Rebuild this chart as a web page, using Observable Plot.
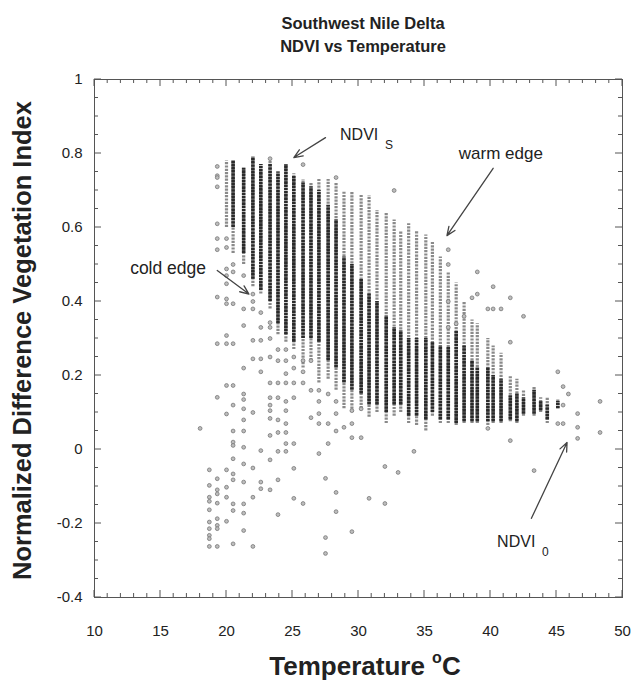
<!DOCTYPE html>
<html><head><meta charset="utf-8">
<script src="https://cdn.jsdelivr.net/npm/d3@7"></script>
<script src="https://cdn.jsdelivr.net/npm/@observablehq/plot@0.6"></script>
<style>
body{margin:0;background:#fff;font-family:"Liberation Sans",Arial,sans-serif;}
#title{width:642px;height:60px;position:relative;}
#title div{position:absolute;left:0;width:726px;text-align:center;font-weight:bold;font-size:16.5px;color:#222;line-height:20px;}
#chart svg{display:block;}
</style></head><body>
<div id="title"><div style="top:13px">Southwest Nile Delta</div><div style="top:36px">NDVI vs Temperature</div></div>
<div id="chart"></div>
<script>
// Temperature columns (°C) of the dense vertical point stacks
const colT      = [20.0,20.5,21.3,22.0,22.6,23.3,23.9,24.5,25.1,25.8,26.4,27.0,27.7,28.3,28.9,29.5,30.2,30.8,31.4,32.1,32.7,33.2,33.8,34.4,35.1,35.6,36.2,36.8,37.4,38.0,38.6,39.0,39.8,40.2,40.8,41.5,42.0,42.5,43.3,43.8,44.3,45.1];
// full extent of each column's points (NDVI)
const colTop    = [0.78,0.78,0.76,0.79,0.77,0.78,0.75,0.77,0.745,0.73,0.72,0.73,0.73,0.72,0.695,0.695,0.69,0.686,0.646,0.64,0.62,0.59,0.61,0.59,0.58,0.56,0.52,0.48,0.45,0.40,0.35,0.34,0.30,0.28,0.26,0.20,0.19,0.16,0.17,0.14,0.14,0.135];
const colBottom = [0.60,0.53,0.50,0.44,0.42,0.38,0.31,0.29,0.27,0.22,0.24,0.18,0.19,0.16,0.11,0.10,0.11,0.087,0.10,0.07,0.09,0.10,0.07,0.065,0.05,0.09,0.07,0.07,0.065,0.07,0.07,0.07,0.065,0.07,0.07,0.075,0.07,0.09,0.09,0.10,0.07,0.11];
// densest (darkest) part of each column (NDVI); null = no dense part
const denseTop    = [null,0.78,0.76,0.79,0.77,0.77,0.75,0.77,0.74,0.72,0.71,0.70,0.66,0.62,0.52,0.50,0.46,0.42,0.40,0.36,0.33,0.32,0.30,0.30,0.30,0.29,0.28,0.276,0.32,0.28,0.24,0.22,0.22,0.20,0.19,0.145,0.15,0.14,0.16,0.13,0.12,0.13];
const denseBottom = [null,0.60,0.53,0.46,0.43,0.40,0.34,0.31,0.29,0.30,0.30,0.29,0.24,0.22,0.18,0.16,0.15,0.12,0.12,0.10,0.12,0.12,0.09,0.09,0.08,0.10,0.08,0.08,0.07,0.075,0.075,0.075,0.075,0.075,0.075,0.08,0.075,0.095,0.095,0.105,0.08,0.11];

// isolated points: temperature and NDVI
const pointT = [
 18.7,18.7,18.7,18.7,18.7,18.7,18.7,18.7,18.7,18.7,18.0,
 19.3,19.3,19.3,19.3,19.3,19.3,19.3,19.3,19.3,19.3,19.3,19.3,19.3,19.3,19.3,19.3,19.3,19.3,
 20.0,20.0,20.0,20.0,20.0,20.0,20.0,20.0,20.0,20.0,20.0,20.0,20.0,20.0,20.0,
 20.5,20.5,20.5,20.5,20.5,20.5,20.5,20.5,20.5,20.5,20.5,20.5,20.5,20.5,20.5,
 21.3,21.3,21.3,21.3,21.3,21.3,21.3,21.3,21.3,21.3,21.3,21.3,21.3,21.3,21.3,
 22.0,22.0,22.0,22.0,22.0,22.0,22.0,22.0,22.0,
 22.6,22.6,22.6,22.6,22.6,22.6,22.6,22.6,
 23.3,23.3,23.3,23.3,23.3,23.3,23.3,23.3,23.3,23.3,23.3,23.3,23.3,
 23.9,23.9,23.9,23.9,23.9,23.9,23.9,23.9,23.9,
 24.5,24.5,24.5,24.5,24.5,24.5,24.5,24.5,24.5,24.5,
 25.1,25.1,25.1,25.1,25.1,25.1,25.1,
 25.8,25.8,25.8,25.8,25.8,
 26.4,26.4,26.4,
 27.0,27.0,27.0,27.0,27.0,
 27.5,27.5,27.5,27.7,27.7,27.7,
 28.3,28.3,28.3,28.3,28.3,28.3,
 28.9,29.5,29.5,29.5,29.5,30.2,30.2,30.8,
 32.0,32.0,32.7,33.0,34.2,
 36.8,36.8,36.8,36.8,37.4,38.0,38.6,39.0,39.0,39.8,39.8,40.2,40.2,40.8,
 41.5,41.5,41.5,42.5,43.3,45.1,45.1,45.5,45.5,45.5,45.9,46.6,46.6,46.6,48.3,48.3
];
const pointNDVI = [
 -0.055,-0.097,-0.129,-0.14,-0.163,-0.196,-0.214,-0.232,-0.241,-0.262,0.057,
 0.765,0.74,0.735,0.71,0.61,0.57,0.54,0.412,0.286,0.141,-0.079,-0.109,-0.12,-0.145,-0.187,-0.205,-0.214,-0.262,
 0.57,0.546,0.488,0.47,0.448,0.407,0.394,0.308,0.286,0.173,0.096,-0.055,-0.102,-0.129,-0.194,
 0.50,0.48,0.394,0.286,0.173,0.12,0.05,0.02,0.011,-0.025,-0.066,-0.082,-0.147,-0.165,-0.255,
 0.47,0.38,0.335,0.22,0.15,0.135,0.11,0.08,0.05,0.006,-0.039,-0.088,-0.147,-0.172,-0.219,
 0.42,0.40,0.38,0.295,0.245,0.10,-0.05,-0.129,-0.262,
 0.37,0.33,0.295,0.245,0.21,-0.003,-0.088,-0.106,
 0.786,0.343,0.33,0.30,0.25,0.18,0.14,0.12,0.105,0.084,0.038,-0.028,-0.109,
 0.27,0.24,0.18,0.14,0.08,0.046,-0.005,-0.082,-0.176,
 0.27,0.24,0.205,0.18,0.13,0.105,0.07,0.046,0.016,-0.005,
 0.25,0.22,0.18,0.14,0.016,-0.051,-0.132,
 0.77,0.24,0.21,0.18,-0.146,
 0.24,0.16,0.086,
 0.16,0.13,0.097,0.07,-0.011,
 -0.078,-0.238,-0.281,0.15,0.07,0.016,
 0.735,0.13,0.097,0.05,-0.116,-0.168,
 0.06,0.105,0.07,0.032,-0.222,0.11,0.032,-0.132,
 -0.046,-0.146,0.70,-0.062,-0.005,
 0.54,0.50,0.40,0.33,0.34,0.36,0.41,0.48,0.42,0.38,0.057,0.44,0.38,0.38,
 0.41,0.29,0.024,0.36,-0.057,0.21,0.07,0.17,0.12,0.07,0.15,0.097,0.06,0.03,0.13,0.046
];

// annotations
const noteText = ["NDVI","warm edge","cold edge","NDVI"];
const noteSub  = ["S","","","0"];
const noteSize = [16,17,17.5,16];
const noteT    = [28.6,37.6,12.7,40.5];
const noteNDVI = [0.849,0.80,0.49,-0.251];
const arrowFromT = [27.5,40.2,19.3,43.1];
const arrowFromV = [0.843,0.76,0.484,-0.186];
const arrowToT   = [25.1,36.7,21.7,45.8];
const arrowToV   = [0.789,0.578,0.42,0.019];

// axis tick labels
const xTicks = [10,15,20,25,30,35,40,45,50];
const yTicks = [-0.4,-0.2,0,0.2,0.4,0.6,0.8,1];

const columns = colT.map((t,i)=>({t, top:colTop[i], bot:colBottom[i], dTop:denseTop[i], dBot:denseBottom[i]}));
const denseCols = columns.filter(d=>d.dTop!=null);
const points = pointT.map((t,i)=>({t, v:pointNDVI[i]}));
const notes = noteText.map((s,i)=>({s, sub:noteSub[i], size:noteSize[i], t:noteT[i], v:noteNDVI[i]}));
const arrows = arrowFromT.map((t,i)=>({x1:t, y1:arrowFromV[i], x2:arrowToT[i], y2:arrowToV[i]}));

const font = "'Liberation Sans', Arial, sans-serif";
const chart = Plot.plot({
  width: 642, height: 624,
  marginLeft: 94, marginRight: 20, marginTop: 19, marginBottom: 87,
  style: {fontFamily: font, fontSize: "15px", color: "#222", background: "#fff"},
  x: {domain: [10, 50], axis: null},
  y: {domain: [-0.4, 1], axis: null},
  marks: [
    Plot.ruleX(columns, {x:"t", y1:"bot", y2:"top", stroke:"#8a8a8a", strokeWidth:3.2, strokeDasharray:"2.2,1.1"}),
    Plot.ruleX(denseCols, {x:"t", y1:"dBot", y2:"dTop", stroke:"#2a2a2a", strokeWidth:3.6, strokeDasharray:"2.6,0.6"}),
    Plot.dot(points, {x:"t", y:"v", r:1.9, fill:"#bdbdbd", stroke:"#777", strokeWidth:0.8}),
    Plot.frame({stroke:"#555", strokeWidth:1}),
    Plot.axisX({ticks:xTicks, tickSize:0, tickPadding:28, fontSize:15, tickFormat:d=>String(d)}),
    Plot.axisY({ticks:yTicks, tickSize:0, tickPadding:12, fontSize:15, tickFormat:d=>String(+d.toFixed(1))}),
    Plot.arrow(arrows, {x1:"x1", y1:"y1", x2:"x2", y2:"y2", stroke:"#444", strokeWidth:1.3, headLength:11, headAngle:45}),
    Plot.text(notes, {x:"t", y:"v", text:"s", textAnchor:"start", fontSize:"size", fill:"#222"}),
    Plot.text(notes.filter(d=>d.sub), {x:"t", y:"v", text:"sub", textAnchor:"start", fontSize:12, dx:45, dy:10, fill:"#222"}),
    Plot.text(["Normalized Difference Vegetation Index"], {frameAnchor:"left", textAnchor:"middle", rotate:-90, dx:-72, dy:2, fontSize:25.5, fontWeight:"bold", fill:"#222"})
  ]
});
document.getElementById("chart").appendChild(chart);

// inward minor/major ticks on all four sides + x title with superscript
const sx = chart.scale("x"), sy = chart.scale("y");
const X = v => sx.apply(v), Y = v => sy.apply(v);
const g = d3.select(chart).append("g").attr("stroke", "#555").attr("stroke-width", 1);
const xl = X(10), xr = X(50), yb = Y(-0.4), yt = Y(1);
d3.range(10, 50.01, 1).forEach(v => {
  const L = (Math.round(v) % 5 === 0) ? 7 : 4;
  g.append("line").attr("x1", X(v)).attr("x2", X(v)).attr("y1", yb).attr("y2", yb - L);
  g.append("line").attr("x1", X(v)).attr("x2", X(v)).attr("y1", yt).attr("y2", yt + L);
});
d3.range(-0.4, 1.0001, 0.05).forEach(v => {
  const L = (Math.abs(v * 5 - Math.round(v * 5)) < 1e-6) ? 7 : 4;
  g.append("line").attr("y1", Y(v)).attr("y2", Y(v)).attr("x1", xl).attr("x2", xl + L);
  g.append("line").attr("y1", Y(v)).attr("y2", Y(v)).attr("x1", xr).attr("x2", xr - L);
});
const xt = d3.select(chart).append("text")
  .attr("x", 365).attr("y", 615).attr("text-anchor", "middle")
  .attr("font-family", font).attr("font-size", 26).attr("font-weight", "bold").attr("fill", "#222");
xt.append("tspan").text("Temperature ");
xt.append("tspan").attr("font-size", 16).attr("dy", -12).text("o");
xt.append("tspan").attr("dy", 12).text("C");
</script></body></html>
